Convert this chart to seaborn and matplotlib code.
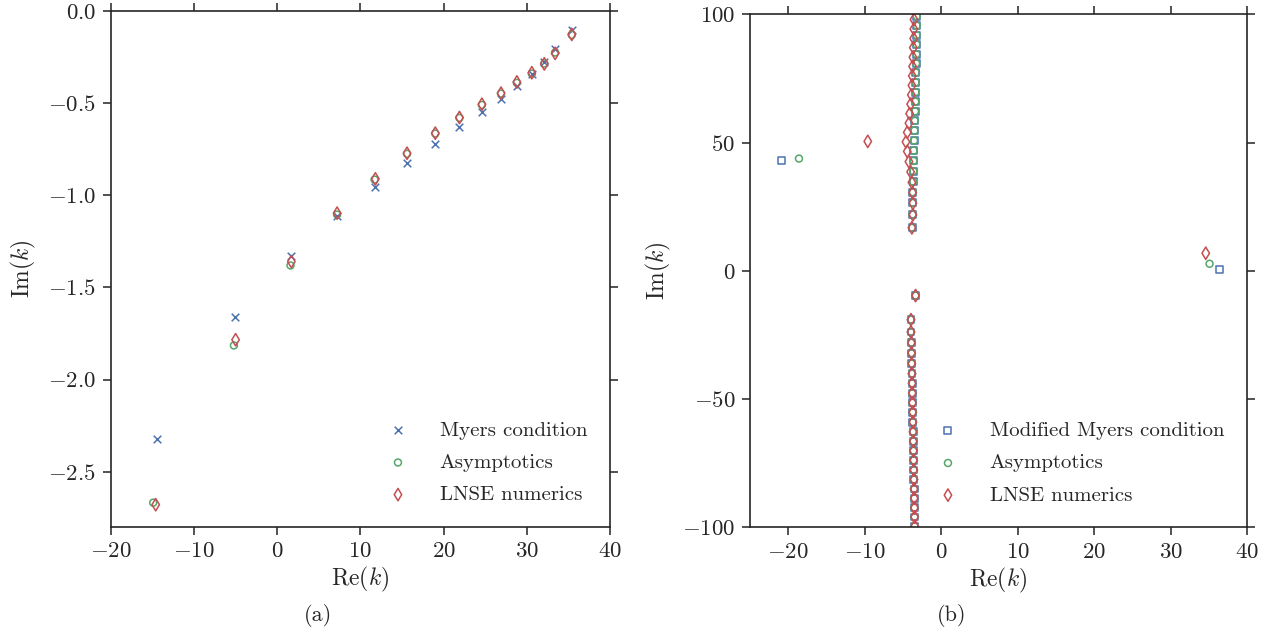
import numpy as np
import pandas as pd
import matplotlib
matplotlib.use("Agg")
import matplotlib.pyplot as plt
import seaborn as sns

# ---- panel (a): eigenvalues, Myers condition vs asymptotics vs LNSE ----
a_myers_re = [-14.4, -5.1, 1.7, 7.2, 11.7, 15.6, 19.0, 21.9, 24.6, 26.9, 28.8, 30.6, 32.1, 33.4, 35.4]
a_myers_im = [-2.32, -1.66, -1.33, -1.11, -0.953, -0.826, -0.72, -0.63, -0.55, -0.477, -0.407, -0.342, -0.275, -0.208, -0.103]

a_asym_re = [-14.9, -5.2, 1.6, 7.2, 11.7, 15.6, 19.0, 21.9, 24.6, 26.9, 28.8, 30.6, 32.1, 33.4, 35.4]
a_asym_im = [-2.668, -1.815, -1.381, -1.105, -0.915, -0.775, -0.665, -0.58, -0.51, -0.448, -0.39, -0.34, -0.285, -0.225, -0.13]

a_lnse_re = [-14.6, -5.0, 1.7, 7.2, 11.8, 15.6, 19.0, 21.9, 24.6, 26.9, 28.8, 30.6, 32.1, 33.4, 35.4]
a_lnse_im = [-2.679, -1.784, -1.36, -1.097, -0.911, -0.772, -0.663, -0.578, -0.506, -0.446, -0.385, -0.335, -0.287, -0.23, -0.127]

# ---- panel (b): modified Myers condition ----
b_mod_re = [-3.2, -3.2, -3.22, -3.25, -3.25, -3.28, -3.3, -3.32, -3.35, -3.38, -3.42, -3.45, -3.5, -3.55,
            -3.6, -3.62, -3.65, -3.68, -3.7, -3.72, -3.75, -3.8,
            -20.9, 36.4, -3.35,
            -3.95, -3.95, -3.9, -3.88, -3.85, -3.82, -3.8, -3.78, -3.75, -3.72, -3.7, -3.68, -3.65,
            -3.62, -3.6, -3.58, -3.56, -3.54, -3.52, -3.5, -3.48, -3.46]
b_mod_im = [99.3, 95.6, 91.9, 88.3, 84.5, 80.9, 77.3, 73.5, 69.7, 66.0, 62.2, 58.5, 54.7, 50.8,
            46.9, 42.9, 38.9, 34.8, 30.7, 26.5, 22.0, 16.8,
            42.9, 0.7, -9.6,
            -19.0, -23.8, -28.0, -32.0, -36.1, -40.0, -43.8, -47.6, -51.4, -55.1, -58.9, -62.7, -66.4,
            -70.1, -73.8, -77.6, -81.3, -85.0, -88.6, -92.3, -95.9, -99.5]

b_asym_re = [-3.2, -3.2, -3.22, -3.25, -3.25, -3.28, -3.3, -3.32, -3.35, -3.38, -3.42, -3.45, -3.5, -3.55,
             -3.6, -3.62, -3.65, -3.68, -3.7, -3.72, -3.75, -3.8,
             -18.6, 35.1, -3.35,
             -3.95, -3.95, -3.9, -3.88, -3.85, -3.82, -3.8, -3.78, -3.75, -3.72, -3.7, -3.68, -3.65,
             -3.62, -3.6, -3.58, -3.56, -3.54, -3.52, -3.5, -3.48, -3.46]
b_asym_im = [99.3, 95.6, 91.9, 88.3, 84.5, 80.9, 77.3, 73.5, 69.7, 66.0, 62.2, 58.5, 54.7, 50.8,
             46.9, 42.9, 38.9, 34.8, 30.7, 26.5, 22.0, 16.8,
             43.8, 2.8, -9.6,
             -19.0, -23.8, -28.0, -32.0, -36.1, -40.0, -43.8, -47.6, -51.4, -55.1, -58.9, -62.7, -66.4,
             -70.1, -73.8, -77.6, -81.3, -85.0, -88.6, -92.3, -95.9, -99.5]

b_lnse_re = [-3.56, -3.58, -3.6, -3.65, -3.7, -3.74, -3.78, -3.83, -3.91, -4.0, -4.13, -4.22, -4.44, -4.61,
             -4.44, -4.22, -4.0, -3.83, -3.74, -3.7, -3.7, -3.83,
             -9.6, 34.6, -3.35,
             -3.95, -3.95, -3.9, -3.88, -3.85, -3.82, -3.8, -3.78, -3.75, -3.72, -3.7, -3.68, -3.65,
             -3.62, -3.6, -3.58, -3.56, -3.54, -3.52, -3.5, -3.48, -3.46]
b_lnse_im = [98.0, 94.3, 90.6, 87.0, 83.3, 79.7, 76.0, 72.3, 68.6, 65.0, 61.3, 57.6, 54.0, 50.3,
             46.6, 42.6, 38.6, 34.5, 30.5, 26.4, 21.9, 16.8,
             50.5, 6.9, -9.6,
             -19.0, -23.8, -28.0, -32.0, -36.1, -40.0, -43.8, -47.6, -51.4, -55.1, -58.9, -62.7, -66.4,
             -70.1, -73.8, -77.6, -81.3, -85.0, -88.6, -92.3, -95.9, -99.5]

sns.set_theme(style="ticks")
plt.rcParams["font.family"] = ["cmr10", "DejaVu Serif"]
plt.rcParams["mathtext.fontset"] = "cm"
plt.rcParams["axes.formatter.use_mathtext"] = True
plt.rcParams["axes.unicode_minus"] = True

pal = sns.color_palette("deep")
c_blue, c_green, c_red = pal[0], pal[2], pal[3]

fig = plt.figure(figsize=(12.76, 6.39), dpi=100)
ax1 = fig.add_axes([0.0868, 0.1753, 0.3913, 0.8075])
ax2 = fig.add_axes([0.5878, 0.1745, 0.3895, 0.8030])

FS = 15


def hollow(ax, x, y, marker, color, label, s):
    df = pd.DataFrame({"re": x, "im": y})
    if marker == "x":
        sns.scatterplot(data=df, x="re", y="im", ax=ax, marker="x", color=color,
                        s=s, linewidth=1.1, label=label)
    else:
        sns.scatterplot(data=df, x="re", y="im", ax=ax, marker=marker, color=color,
                        facecolor="none", edgecolor=color, s=s, linewidth=1.1, label=label)


hollow(ax1, a_myers_re, a_myers_im, "x", c_blue, "Myers condition", 30)
hollow(ax1, a_asym_re, a_asym_im, "o", c_green, "Asymptotics", 25)
hollow(ax1, a_lnse_re, a_lnse_im, "d", c_red, "LNSE numerics", 40)

hollow(ax2, b_mod_re, b_mod_im, "s", c_blue, "Modified Myers condition", 25)
hollow(ax2, b_asym_re, b_asym_im, "o", c_green, "Asymptotics", 25)
hollow(ax2, b_lnse_re, b_lnse_im, "d", c_red, "LNSE numerics", 40)

ax1.set_xlim(-20, 40)
ax1.set_ylim(-2.8, 0.0)
ax1.set_xticks(np.arange(-20, 41, 10))
ax1.set_yticks(np.arange(-2.5, 0.01, 0.5))

ax2.set_xlim(-25, 40)
ax2.set_ylim(-100, 100)
ax2.set_xticks(np.arange(-20, 41, 10))
ax2.set_yticks(np.arange(-100, 101, 50))

for ax in (ax1, ax2):
    ax.set_xlabel("Re($k$)", fontsize=17, labelpad=3)
    ax.set_ylabel("Im($k$)", fontsize=17, labelpad=7)
    ax.tick_params(axis="both", which="major", direction="out", length=5.5, width=1.2,
                   labelsize=16.5, color=".2", top=True, right=True, pad=5)
    for sp in ax.spines.values():
        sp.set_visible(True)
        sp.set_linewidth(1.2)
        sp.set_color(".15")
    ax.legend(loc="lower right", frameon=False, fontsize=FS, scatterpoints=1,
              handletextpad=1.0, labelspacing=0.65, borderaxespad=0.7)

fig.text(0.249, 0.037, "(a)", ha="center", va="center", fontsize=16)
fig.text(0.746, 0.037, "(b)", ha="center", va="center", fontsize=16)

fig.savefig("out.png", dpi=100)
